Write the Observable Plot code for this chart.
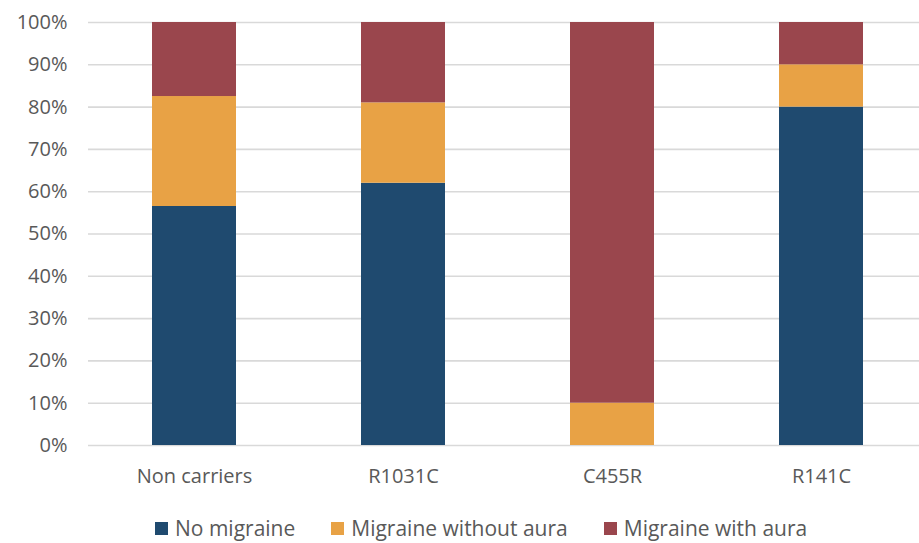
<!DOCTYPE html>
<html>
<head>
<meta charset="utf-8">
<script src="https://cdn.jsdelivr.net/npm/d3@7"></script>
<script src="https://cdn.jsdelivr.net/npm/@observablehq/plot@0.6"></script>
<style>
  html, body { margin: 0; padding: 0; background: #fff; overflow: hidden; }
  #wrap { position: relative; width: 919px; height: 543px; font-family: "Open Sans", sans-serif; }
  #legend { position: absolute; left: 155px; top: 515px; height: 26px; display: flex; align-items: center;
            font-family: "Open Sans", sans-serif; font-size: 21px; color: #595959; line-height: 26px; white-space: nowrap; }
  #legend .item { display: flex; align-items: center; margin-right: 36px; }
  #legend .sw { width: 13px; height: 13px; margin-right: 7px; }
</style>
</head>
<body>
<div id="wrap"><div id="chart"></div><div id="legend"></div></div>
<script>
// Share of migraine phenotype by carrier group (percent of each group)
const groups = ["Non carriers", "R1031C", "C455R", "R141C"];
const series = ["No migraine", "Migraine without aura", "Migraine with aura"];
const noMigraine = [56.5, 62, 0, 80];
const withoutAura = [26, 19, 10, 10];
const withAura = [17.5, 19, 90, 10];
const colors = ["#1f4a6f", "#e8a245", "#9a464d"];
const yTicks = [0, 10, 20, 30, 40, 50, 60, 70, 80, 90, 100];

const values = [noMigraine, withoutAura, withAura];
const rows = [];
series.forEach((s, i) => groups.forEach((g, j) => rows.push({group: g, series: s, value: values[i][j]})));

const chart = Plot.plot({
  width: 919,
  height: 505,
  marginLeft: 88,
  marginRight: 0,
  marginTop: 22,
  marginBottom: 60,
  style: {fontFamily: "Open Sans, sans-serif", fontSize: "20px", color: "#595959", background: "#fff"},
  x: {domain: groups, range: [88.4, 925.6], paddingInner: 0.6, paddingOuter: 0.3, label: null, tickSize: 0, tickPadding: 23},
  y: {domain: [0, 100], ticks: yTicks, tickFormat: d => d + "%", label: null, tickSize: 0, tickPadding: 21},
  color: {domain: series, range: colors},
  marks: [
    Plot.ruleY(yTicks, {stroke: "#d9d9d9", strokeWidth: 1.6}),
    Plot.barY(rows, {x: "group", y: "value", fill: "series"})
  ]
});
document.getElementById("chart").appendChild(chart);

const legend = document.getElementById("legend");
series.forEach((s, i) => {
  const item = document.createElement("div");
  item.className = "item";
  const sw = document.createElement("span");
  sw.className = "sw";
  sw.style.background = colors[i];
  const label = document.createElement("span");
  label.textContent = s;
  item.appendChild(sw);
  item.appendChild(label);
  legend.appendChild(item);
});
</script>
</body>
</html>
